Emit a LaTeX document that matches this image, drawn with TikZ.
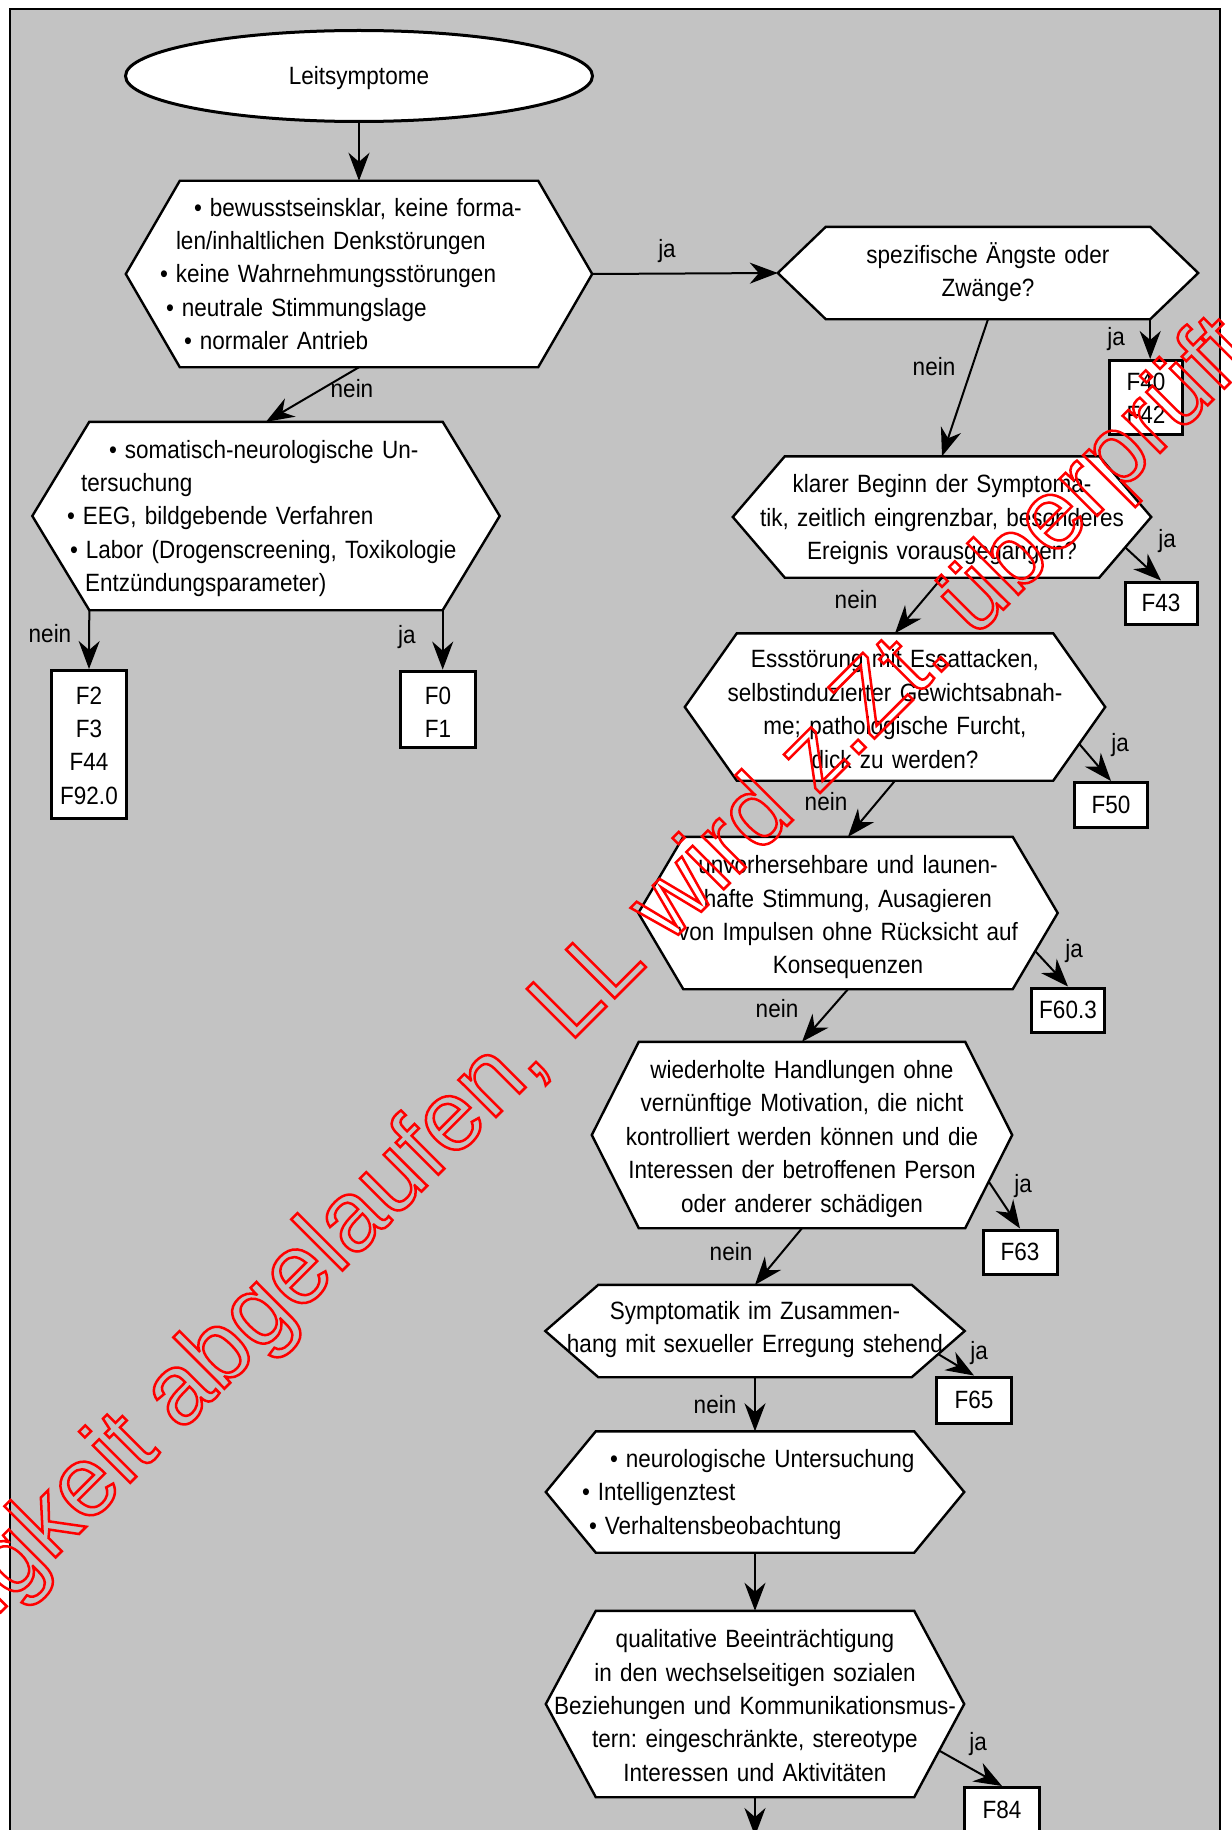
\documentclass[tikz,border=0pt]{standalone}
\usepackage{fontspec}
\setmainfont{Liberation Sans}[FakeStretch=0.9]
\newfontfamily\stampfont{Liberation Sans}
\usetikzlibrary{shapes.geometric,arrows.meta,calc}
\definecolor{panelgray}{RGB}{195,195,195}
\pgfdeclarelayer{back}
\pgfdeclarelayer{hexes}
\pgfdeclarelayer{front}
\pgfsetlayers{back,hexes,main,front}

% hexagonal outline behind a named (invisible) rectangle node; #2 = depth of the side points
\newcommand\hexframe[2]{%
  \coordinate (#1-tl) at ([xshift=#2]#1.north west);
  \coordinate (#1-tr) at ([xshift=-#2]#1.north east);
  \coordinate (#1-br) at ([xshift=-#2]#1.south east);
  \coordinate (#1-bl) at ([xshift=#2]#1.south west);
  \coordinate (#1-yes) at ($(#1.east)!0.5!(#1-br)$);
  \begin{pgfonlayer}{hexes}
    \filldraw[hexline] (#1-tl) -- (#1-tr) -- (#1.east) -- (#1-br) -- (#1-bl) -- (#1.west) -- cycle;
  \end{pgfonlayer}}
\newcommand\bul{\textbullet\hspace{8pt}}
% one left-aligned line with its own indent
\newcommand\lineat[2]{\hspace*{#1}\rlap{#2}}
% one centred line
\newcommand\cl[1]{\makebox[0pt]{#1}}

\tikzset{
  % struts around the text block; the argument lowers the text by that amount
  drop/.style={
    execute at begin node={\rule{0pt}{\dimexpr23.4pt+#1\relax}},
    execute at end node={\rule[\dimexpr#1-10pt\relax]{0pt}{\dimexpr10pt-#1\relax}}},
  txt/.style={font=\fontsize{25pt}{33.4pt}\selectfont, drop=0pt},
  hexa/.style={txt, rectangle, inner ysep=0pt, inner xsep=5pt, align=center},
  hexlist/.style={hexa, align=left},
  hexline/.style={draw=black, fill=white, line width=2.4pt, line join=miter},
  codebox/.style={txt, draw=black, fill=white, line width=3pt, align=center, inner sep=0pt, drop=3.5pt},
  start/.style={txt, ellipse, draw=black, fill=white, line width=3pt, inner sep=0pt, drop=3.5pt},
  lbl/.style={txt, inner sep=0pt},
  flow/.style={line width=2pt, -{Stealth[length=28pt,width=21pt,inset=9pt]}},
}

\begin{document}
\frenchspacing
\begin{tikzpicture}[x=1pt,y=-1pt]
\useasboundingbox (0,0) rectangle (1231,1830);
\begin{pgfonlayer}{back}
  \fill[white] (0,0) rectangle (1231,1830);
  \filldraw[fill=panelgray, draw=black, line width=2.5pt] (10,9) rectangle (1220,1850);
\end{pgfonlayer}

% start
\node[start, minimum width=467pt, minimum height=91pt] (lead) at (359,76) {Leitsymptome};

% decision hexagons
\node[hexlist, drop=4.5pt, minimum width=466pt, minimum height=186pt, inner xsep=34pt, text width=398pt] (h1) at (359,274) {%
\lineat{34pt}{\bul bewusstseinsklar, keine forma-}\\
\lineat{16pt}{len/inhaltlichen Denkstörungen}\\
\lineat{0pt}{\bul keine Wahrnehmungsstörungen}\\
\lineat{6pt}{\bul neutrale Stimmungslage}\\
\lineat{24pt}{\bul normaler Antrieb}};
\hexframe{h1}{54pt}

\node[hexlist, drop=4.5pt, minimum width=467pt, minimum height=188pt, inner xsep=34.5pt, text width=398pt] (h2) at (266,516) {%
\lineat{42pt}{\bul somatisch-neurologische Un-}\\
\lineat{14pt}{tersuchung}\\
\lineat{0pt}{\bul EEG, bildgebende Verfahren}\\
\lineat{3pt}{\bul Labor (Drogenscreening, Toxikologie}\\
\lineat{18pt}{Entzündungsparameter)}};
\hexframe{h2}{57pt}

\node[hexa, drop=1pt, minimum width=420pt, minimum height=92pt, text width=410pt] (h3) at (988,273) {%
\cl{spezifische Ängste oder}\\\cl{Zwänge?}};
\hexframe{h3}{48pt}

\node[hexa, drop=5pt, minimum width=418pt, minimum height=121pt, text width=408pt] (h4) at (942,517) {%
\cl{klarer Beginn der Symptoma-}\\\cl{tik, zeitlich eingrenzbar, besonderes}\\\cl{Ereignis vorausgegangen?}};
\hexframe{h4}{52pt}

\node[hexa, drop=8.5pt, minimum width=420pt, minimum height=147pt, text width=410pt] (h5) at (895,707) {%
\cl{Essstörung mit Essattacken,}\\\cl{selbstinduzierter Gewichtsabnah-}\\\cl{me; pathologische Furcht,}\\\cl{dick zu werden?}};
\hexframe{h5}{52pt}

\node[hexa, drop=8pt, minimum width=419pt, minimum height=152pt, text width=409pt] (h6) at (848,913) {%
\cl{unvorhersehbare und launen-}\\\cl{hafte Stimmung, Ausagieren}\\\cl{von Impulsen ohne Rücksicht auf}\\\cl{Konsequenzen}};
\hexframe{h6}{45pt}

\node[hexa, drop=7pt, minimum width=420pt, minimum height=186pt, text width=410pt] (h7) at (802,1135) {%
\cl{wiederholte Handlungen ohne}\\\cl{vernünftige Motivation, die nicht}\\\cl{kontrolliert werden können und die}\\\cl{Interessen der betroffenen Person}\\\cl{oder anderer schädigen}};
\hexframe{h7}{47pt}

\node[hexa, drop=-3.5pt, minimum width=419pt, minimum height=92pt, text width=409pt] (h8) at (755,1331) {%
\cl{Symptomatik im Zusammen-}\\\cl{hang mit sexueller Erregung stehend}};
\hexframe{h8}{53pt}

\node[hexlist, drop=4pt, minimum width=418pt, minimum height=121pt, inner xsep=36pt, text width=346pt] (h9) at (755,1492) {%
\lineat{28pt}{\bul neurologische Untersuchung}\\
\lineat{0pt}{\bul Intelligenztest}\\
\lineat{7pt}{\bul Verhaltensbeobachtung}};
\hexframe{h9}{50pt}

\node[hexa, drop=7.5pt, minimum width=418pt, minimum height=186pt, text width=408pt] (h10) at (755,1704) {%
\cl{qualitative Beeinträchtigung}\\\cl{in den wechselseitigen sozialen}\\\cl{Beziehungen und Kommunikationsmus-}\\\cl{tern: eingeschränkte, stereotype}\\\cl{Interessen und Aktivitäten}};
\hexframe{h10}{50pt}

% diagnosis codes
\node[codebox, drop=6pt, minimum width=75pt, minimum height=148pt, text width=75pt] (f2) at (89,744.5) {F2\\F3\\F44\\F92.0};
\node[codebox, drop=10pt, minimum width=75pt, minimum height=75pt, text width=75pt] (f01) at (438,709.5) {F0\\F1};
\node[codebox, drop=6pt, minimum width=73pt, minimum height=74pt, text width=73pt] (f40) at (1146,397.5) {F40\\F42};
\node[codebox, minimum width=72pt, minimum height=42pt] (f43) at (1161,603) {F43};
\node[codebox, minimum width=73pt, minimum height=45pt] (f50) at (1111,805) {F50};
\node[codebox, minimum width=73pt, minimum height=44pt] (f603) at (1068,1010) {F60.3};
\node[codebox, minimum width=74pt, minimum height=44pt] (f63) at (1020,1252) {F63};
\node[codebox, minimum width=75pt, minimum height=46pt] (f65) at (974,1400) {F65};
\node[codebox, minimum width=75pt, minimum height=45pt] (f84) at (1002,1810) {F84};

% branch labels
\node[lbl] (l1) at (352,391) {nein};
\node[lbl] (l2) at (667,251) {ja};
\node[lbl] (l3) at (1116,339) {ja};
\node[lbl] (l4) at (934,369) {nein};
\node[lbl] (l5) at (1167,541) {ja};
\node[lbl] (l6) at (856,602) {nein};
\node[lbl] (l7) at (1120,745) {ja};
\node[lbl] (l8) at (826,804) {nein};
\node[lbl] (l9) at (1074,951) {ja};
\node[lbl] (l10) at (777,1011) {nein};
\node[lbl] (l11) at (1023,1186) {ja};
\node[lbl] (l12) at (731,1254) {nein};
\node[lbl] (l13) at (979,1353) {ja};
\node[lbl] (l14) at (715,1407) {nein};
\node[lbl] (l15) at (978,1744) {ja};
\node[lbl] (l16) at (50,636) {nein};
\node[lbl] (l17) at (407,637) {ja};

% connectors
\draw[flow] (lead.south) -- (h1.north);
\draw[flow] (h1.east) -- (h3.west);
\draw[flow] (h1.south) -- (h2.north);
\draw[flow] (h2-bl) -- (f2.north);
\draw[flow] (h2-br) -- (h2-br |- f01.north);
\draw[flow] (h3-br) -- (h3-br |- f40.north);
\draw[flow] (h3.south) -- (h4.north);
\draw[flow] (h4-yes) -- (f43.north);
\draw[flow] (h4.south) -- (h5.north);
\draw[flow] (h5-yes) -- (f50.north);
\draw[flow] (h5.south) -- (h6.north);
\draw[flow] (h6-yes) -- (f603.north);
\draw[flow] (h6.south) -- (h7.north);
\draw[flow] (h7-yes) -- (f63.north);
\draw[flow] (h7.south) -- (h8.north);
\draw[flow] (h8-yes) -- (f65.north);
\draw[flow] (h8.south) -- (h9.north);
\draw[flow] (h9.south) -- (h10.north);
\draw[flow] (h10-yes) -- (f84.north);
\coordinate (exit) at (755,1836);
\draw[flow] (h10.south) -- (exit);

% outlined stamp across the sheet
\begin{pgfonlayer}{front}
  \node[rotate=45, anchor=base west, inner sep=0pt, text=red,
        font=\stampfont\fontsize{100pt}{100pt}\selectfont] (stamp) at (-134,1747)
    {\special{pdf:literal direct 1 0 0 RG 1 0 0 rg 1 Tr 2.5 w}Gültigkeit abgelaufen, LL wird z.Zt. überprüft\special{pdf:literal direct 0 Tr}};
\end{pgfonlayer}
\end{tikzpicture}
\end{document}
